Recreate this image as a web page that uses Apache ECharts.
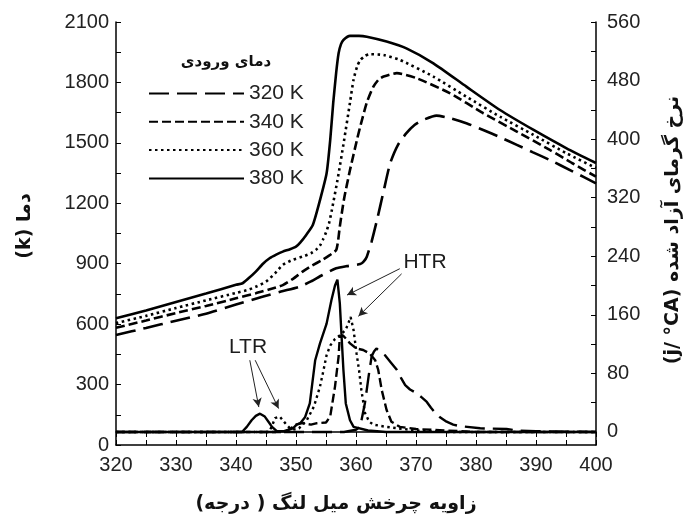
<!DOCTYPE html>
<html>
<head>
<meta charset="utf-8">
<script src="https://cdn.jsdelivr.net/npm/echarts@6/dist/echarts.min.js"></script>
<style>
  html, body { margin: 0; padding: 0; background: #fff; }
  #chart { width: 689px; height: 521px; }
</style>
</head>
<body>
<div id="chart"></div>
<script>
// Inlet temperatures (series names)
const inletTemps = ['320 K', '340 K', '360 K', '380 K'];

// In-cylinder temperature (K) versus crank angle (deg)
const temp320Angle = [320, 325, 330, 335, 340, 344.4, 347.5, 350.6, 352.5, 354.4, 356.7, 358.5, 360.7, 361.3, 361.8, 362.6, 363.5, 364.6, 365.7, 367, 368.4, 369.8, 371.2, 373.4, 375.7, 378.5, 381.2, 384, 386.8, 389.5, 392.3, 396, 400];
const temp320 = [546, 581, 617, 652, 697, 736, 762, 786, 812, 844, 877, 888, 898, 912, 935, 1010, 1117, 1260, 1399, 1490, 1548, 1590, 1614, 1635, 1622, 1596, 1564, 1528, 1490, 1453, 1415, 1360, 1299];

const temp340Angle = [320, 325, 330, 335, 340, 343.3, 345.5, 347.8, 349.5, 351.1, 352.5, 354.4, 355.5, 356.2, 356.7, 357, 357.3, 358, 359, 360.2, 360.7, 361.8, 362.9, 363.8, 364.6, 366.8, 370.1, 375.7, 381.2, 386.8, 392.3, 396, 400];
const temp340 = [582, 618, 655, 690, 728, 753, 772, 794, 825, 861, 888, 919, 940, 955, 968, 1010, 1084, 1220, 1365, 1520, 1580, 1700, 1779, 1815, 1829, 1846, 1821, 1746, 1647, 1556, 1465, 1400, 1332];

const temp360Angle = [320, 325, 330, 335, 340, 342.2, 343.5, 345, 346.5, 347.8, 349.5, 351.1, 352.5, 353.3, 354, 354.5, 355, 355.5, 356, 357, 358, 359, 359.6, 360.2, 360.7, 361.5, 362.3, 364.6, 367.3, 372.9, 378.4, 384, 389.6, 395.1, 400];
const temp360 = [605, 641, 680, 718, 755, 772, 788, 811, 852, 894, 920, 935, 952, 968, 990, 1020, 1055, 1100, 1170, 1330, 1510, 1700, 1815, 1880, 1910, 1932, 1940, 1936, 1912, 1829, 1729, 1630, 1539, 1448, 1375];

const temp380Angle = [320, 325, 330, 335, 340, 341.1, 342, 343.3, 344.5, 345.6, 346.7, 347.8, 349, 350, 350.7, 351.7, 352.8, 354, 355.1, 355.7, 356.2, 356.7, 357.1, 357.5, 357.9, 359, 360.5, 361.8, 365.1, 368.4, 372.9, 378.4, 384, 389.6, 395.1, 400];
const temp380 = [629, 668, 710, 752, 795, 803, 825, 861, 900, 927, 945, 960, 972, 985, 1005, 1043, 1092, 1216, 1349, 1514, 1697, 1850, 1945, 1990, 2011, 2031, 2031, 2027, 2003, 1969, 1895, 1779, 1663, 1564, 1473, 1400];

// Heat release rate (J/°CA) versus crank angle (deg)
const hrr320Angle = [320, 358, 360, 360.7, 361.5, 362.1, 362.6, 363, 363.4, 364, 364.8, 365.8, 366.8, 367.5, 368.2, 369, 370.1, 371, 371.8, 372.5, 373.2, 374, 375.1, 376.2, 377.3, 380.7, 385.1, 387, 390, 400];
const hrr320 = [0, 0, 3, 7, 40, 76, 103, 110, 114, 110, 105, 95, 85, 74, 64, 58, 53, 47, 41, 33, 26, 20, 14, 10, 8, 5, 4, 2, 1, 0];

const hrr340Angle = [320, 348, 349, 350, 351, 352.5, 353.5, 355, 355.7, 356.5, 357.1, 357.3, 357.8, 358.5, 359, 360.1, 361.2, 362.3, 363.2, 363.7, 364.3, 365.1, 365.9, 367.3, 370, 375, 380, 400];
const hrr340 = [0, 0, 4, 10, 12, 10, 12, 13, 21, 62, 103, 130, 132, 126, 121, 114, 112, 107, 98, 85, 57, 30, 14, 7, 4, 2, 0, 0];

const hrr360Angle = [320, 345.5, 346, 346.5, 347.3, 348.2, 349, 350, 350.5, 351.8, 353, 354, 354.6, 355.1, 355.7, 356.5, 357.5, 358.3, 358.7, 359.1, 359.6, 360.1, 360.5, 360.9, 361.5, 362.2, 362.9, 365, 367, 370, 375, 400];
const hrr360 = [0, 0, 8, 19, 21, 12, 5, 3, 5, 16, 35, 62, 85, 105, 118, 127, 133, 140, 148, 157, 139, 107, 85, 57, 26, 14, 10, 7, 5, 2, 0, 0];

const hrr380Angle = [320, 341, 341.8, 342.6, 343.3, 344, 344.8, 345.5, 346, 346.8, 348, 349.5, 350.1, 350.7, 351.5, 352.3, 353.2, 354, 355.1, 355.9, 356.5, 356.9, 357.3, 357.6, 357.9, 358.3, 359, 359.6, 362, 365, 400];
const hrr380 = [0, 0, 7, 16, 22, 25, 21, 13, 7, 1, 1, 5, 10, 12, 20, 39, 98, 121, 148, 180, 200, 208, 176, 130, 85, 39, 16, 7, 2, 0, 0];

// Axis tick values
const angleTicks = [320, 330, 340, 350, 360, 370, 380, 390, 400];
const tempTicks = [0, 300, 600, 900, 1200, 1500, 1800, 2100];
const hrrTicks = [0, 80, 160, 240, 320, 400, 480, 560];
const hrrMinorTicks = [0, 40, 80, 120, 160, 200, 240, 280, 320, 360, 400, 440, 480, 520, 560];

// Reaction-zone callouts (crank angle, heat release rate)
const ltrLabelAt = [342, 116];
const htrLabelAt = [371.5, 232];
const ltrArrows = [[[342.3, 98], [343.8, 34]], [[343.2, 98], [347.1, 32]]];
const htrArrows = [[[367.3, 223], [358.5, 187]], [[367.6, 216], [360.4, 158]]];

const pairs = (xs, ys) => xs.map((x, i) => [x, ys[i]]);

const dashOf = {
  '320 K': [20, 8],
  '340 K': [9, 4],
  '360 K': [2.5, 3.5],
  '380 K': 'solid'
};

const tempSets = {
  '320 K': pairs(temp320Angle, temp320),
  '340 K': pairs(temp340Angle, temp340),
  '360 K': pairs(temp360Angle, temp360),
  '380 K': pairs(temp380Angle, temp380)
};
const hrrSets = {
  '320 K': pairs(hrr320Angle, hrr320),
  '340 K': pairs(hrr340Angle, hrr340),
  '360 K': pairs(hrr360Angle, hrr360),
  '380 K': pairs(hrr380Angle, hrr380)
};

const numFont = 'Liberation Sans, Arial, sans-serif';
const faFont = 'DejaVu Sans, sans-serif';
const ink = '#000';

const series = [];
inletTemps.forEach(name => {
  series.push({
    name, type: 'line', xAxisIndex: 0, yAxisIndex: 0,
    data: tempSets[name], symbol: 'none', smooth: 0.2,
    lineStyle: { color: ink, width: 2.6, type: dashOf[name], cap: 'butt' },
    itemStyle: { color: ink }
  });
});
inletTemps.forEach(name => {
  series.push({
    name, type: 'line', xAxisIndex: 0, yAxisIndex: 1,
    data: hrrSets[name], symbol: 'none', smooth: false,
    lineStyle: { color: ink, width: 2.4, type: dashOf[name], cap: 'butt' },
    itemStyle: { color: ink }
  });
});

const arrowLine = seg => [{ coord: seg[0] }, { coord: seg[1] }];
const callout = (text, at) => ({
  coord: at, value: text, symbol: 'rect', symbolSize: 1,
  itemStyle: { color: 'rgba(0,0,0,0)' },
  label: { show: true, position: 'inside', formatter: text, fontSize: 21, fontFamily: numFont, color: '#1c1c1c' }
});

// Callout arrows and labels
series.push({
  name: 'callouts', type: 'line', xAxisIndex: 0, yAxisIndex: 1, data: [],
  symbol: 'none', silent: true,
  markLine: {
    silent: true, symbol: ['none', 'arrow'], symbolSize: [7, 9],
    label: { show: false },
    lineStyle: { color: '#222', width: 1, type: 'solid' },
    data: ltrArrows.concat(htrArrows).map(arrowLine)
  },
  markPoint: {
    silent: true,
    data: [callout('LTR', ltrLabelAt), callout('HTR', htrLabelAt)]
  }
});

// Right-to-left embedding for Persian captions
const rtl = s => '\u202B' + s + '\u202C';

const chart = echarts.init(document.getElementById('chart'), null, { renderer: 'canvas' });
chart.setOption({
  animation: false,
  backgroundColor: '#fff',
  grid: { left: 116, right: 93, top: 22, bottom: 76 },
  legend: {
    orient: 'vertical', left: 143, top: 78,
    itemWidth: 95, itemHeight: 14, itemGap: 7.3,
    selectedMode: false,
    data: inletTemps,
    itemStyle: { color: 'rgba(0,0,0,0)', borderWidth: 0, opacity: 0 },
    textStyle: { fontSize: 21, fontFamily: numFont, color: '#222', lineHeight: 20 }
  },
  xAxis: [{
    type: 'value', position: 'bottom', min: 320, max: 400, interval: 5,
    axisLine: { lineStyle: { color: ink, width: 1.5 } },
    axisTick: { inside: true, length: 5, lineStyle: { color: ink, width: 1 } },
    axisLabel: {
      margin: 10, fontSize: 20, fontFamily: numFont, color: '#222',
      formatter: v => angleTicks.includes(v) ? String(v) : ''
    },
    splitLine: { show: false }
  }, {
    type: 'value', position: 'top', min: 320, max: 400, interval: 5,
    axisLine: { lineStyle: { color: ink, width: 1.5 } },
    axisTick: { inside: true, length: 5, lineStyle: { color: ink, width: 1 } },
    axisLabel: { show: false },
    splitLine: { show: false }
  }],
  yAxis: [{
    type: 'value', position: 'left', min: 0, max: 2100, interval: 150,
    axisLine: { show: true, lineStyle: { color: ink, width: 1.5 } },
    axisTick: { show: true, inside: true, length: 5, lineStyle: { color: ink, width: 1 } },
    axisLabel: {
      margin: 7, fontSize: 20, fontFamily: numFont, color: '#222',
      formatter: v => tempTicks.includes(v) ? String(v) : ''
    },
    splitLine: { show: false }
  }, {
    type: 'value', position: 'right', min: -17.8, max: 560,
    axisLine: { show: true, lineStyle: { color: ink, width: 1.5 } },
    axisTick: { show: true, inside: true, length: 5, customValues: hrrMinorTicks, lineStyle: { color: ink, width: 1 } },
    axisLabel: {
      margin: 11, fontSize: 20, fontFamily: numFont, color: '#222',
      customValues: hrrTicks
    },
    splitLine: { show: false }
  }],
  graphic: [{
    type: 'text', x: 226, y: 62,
    style: { text: rtl('دمای ورودی'), font: 'bold 15px ' + faFont, fill: '#111', align: 'center', verticalAlign: 'middle' }
  }, {
    type: 'text', x: 25, y: 226, rotation: Math.PI / 2,
    style: { text: '(k) دما', font: 'bold 19px ' + faFont, fill: '#111', align: 'center', verticalAlign: 'middle' }
  }, {
    type: 'text', x: 673, y: 230, rotation: Math.PI / 2,
    style: { text: '(j/ °CA) نرخ گرمای آزاد شده', font: 'bold 19px ' + faFont, fill: '#111', align: 'center', verticalAlign: 'middle' }
  }, {
    type: 'text', x: 336, y: 504,
    style: { text: rtl('زاویه چرخش میل لنگ ( درجه)'), font: 'bold 19px ' + faFont, fill: '#111', align: 'center', verticalAlign: 'middle' }
  }],
  series
});
</script>
</body>
</html>
